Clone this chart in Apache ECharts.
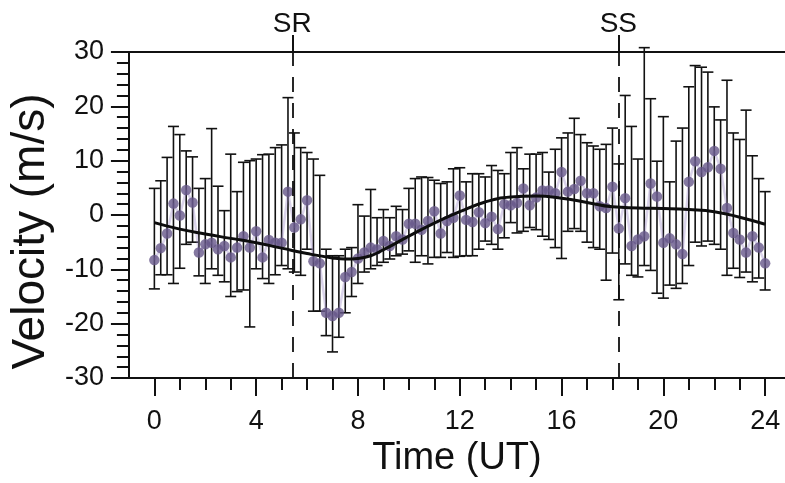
<!DOCTYPE html>
<html>
<head>
<meta charset="utf-8">
<script src="https://cdn.jsdelivr.net/npm/echarts@6/dist/echarts.min.js"></script>
<style>html,body{margin:0;padding:0;background:#fff}#c{width:785px;height:483px}</style>
</head>
<body>
<div id="c"></div>
<script>
// Time (UT), hours
const hours = [0,0.25,0.5,0.75,1,1.25,1.5,1.75,2,2.25,2.5,2.75,3,3.25,3.5,3.75,4,4.25,4.5,4.75,5,5.25,5.5,5.75,6,6.25,6.5,6.75,7,7.25,7.5,7.75,8,8.25,8.5,8.75,9,9.25,9.5,9.75,10,10.25,10.5,10.75,11,11.25,11.5,11.75,12,12.25,12.5,12.75,13,13.25,13.5,13.75,14,14.25,14.5,14.75,15,15.25,15.5,15.75,16,16.25,16.5,16.75,17,17.25,17.5,17.75,18,18.25,18.5,18.75,19,19.25,19.5,19.75,20,20.25,20.5,20.75,21,21.25,21.5,21.75,22,22.25,22.5,22.75,23,23.25,23.5,23.75,24];
// Velocity (m/s)
const velocity = [-8.3,-6.1,-3.4,2.1,-0.1,4.6,2.3,-6.9,-5.4,-5.1,-6.3,-5.7,-7.8,-6.0,-3.9,-6.0,-3.0,-7.8,-4.6,-5.1,-5.1,4.3,-2.3,-0.8,2.7,-8.5,-8.9,-18.0,-18.6,-18.0,-11.4,-10.5,-8.0,-6.9,-6.0,-6.3,-4.8,-5.7,-3.9,-4.5,-1.6,-1.6,-2.7,-1.1,0.7,-3.4,-1.1,-0.5,3.6,-0.9,-1.3,0.5,-1.5,-0.3,-2.6,2.0,1.8,2.2,4.9,1.8,3.2,4.5,4.5,4.0,7.9,4.3,4.8,6.3,4.0,4.0,1.6,1.3,5.2,-2.5,3.1,-5.7,-4.5,-3.9,5.8,3.4,-5.1,-4.3,-5.4,-7.2,6.1,9.9,7.9,8.8,11.8,8.5,1.3,-3.3,-4.5,-6.9,-3.9,-6.0,-8.9];
// Error bar upper ends
const upper = [4.9,6.3,10.6,16.3,14.8,11.8,10.7,4.9,6.7,15.9,5.3,0.8,11.2,4.3,9.7,10.0,10.3,11.1,11.2,12.4,12.9,21.6,15.1,12.4,11.5,10.3,7.3,-6.3,-7.5,-7.5,-6.3,-6.0,1.9,-0.2,4.7,-0.5,1.0,-0.5,1.6,1.0,4.9,6.7,7.0,6.9,6.4,5.8,6.1,8.5,8.7,6.1,7.6,7.6,7.0,9.1,8.2,7.6,11.5,12.4,8.5,11.2,11.2,11.5,7.9,12.1,14.2,15.1,17.8,14.8,13.3,12.7,12.1,13.0,16.0,9.4,22.0,16.3,10.3,30.8,21.4,9.9,18.1,6.1,13.6,16.0,23.6,27.5,27.2,26.3,19.9,17.5,24.8,15.1,13.9,19.3,10.9,6.7,4.3];
// Error bar lower ends
const lower = [-13.6,-11.0,-11.0,-12.6,-9.8,-5.4,-5.0,-11.2,-12.6,-9.9,-11.1,-12.3,-15.0,-14.1,-13.8,-20.6,-9.9,-11.7,-12.6,-11.0,-9.3,-9.9,-10.5,-11.1,-6.3,-17.7,-17.7,-22.2,-25.2,-22.5,-18.0,-15.0,-12.6,-10.5,-9.9,-9.3,-8.7,-8.1,-7.5,-7.2,-6.6,-8.7,-7.5,-9.0,-7.8,-7.8,-6.9,-7.8,-7.6,-7.5,-7.5,-6.3,-4.8,-5.4,-6.3,-4.2,-1.4,-3.3,-3.0,-2.3,-2.7,-3.9,-4.5,-6.0,-8.0,-3.0,-2.5,-3.0,-5.0,-6.0,-6.3,-12.0,-7.0,-15.6,-9.0,-11.1,-11.4,-9.3,-10.2,-14.4,-15.3,-12.9,-13.5,-12.6,-9.3,-5.0,-5.7,-4.8,-5.4,-6.3,-11.1,-9.8,-11.5,-10.5,-12.3,-11.6,-13.8];
// Fitted curve
const fitHours = [0,1,2,3,4,5,6,7,7.5,8,8.5,9,10,11,12,13,14,15,16,17,18,19,20,21,22,23,24];
const fitValues = [-1.4,-2.6,-3.5,-4.3,-5.1,-6.1,-7.1,-7.9,-8.1,-8.0,-7.5,-6.4,-3.9,-1.5,0.6,2.4,3.3,3.5,3.1,2.3,1.5,1.3,1.2,1.0,0.6,-0.4,-1.7];
// Sunrise / sunset
const eventHours = [5.42, 18.23];
const eventLabels = ['SR', 'SS'];
// Axis ticks
const xHourTicks = [0,1,2,3,4,5,6,7,8,9,10,11,12,13,14,15,16,17,18,19,20,21,22,23,24];
const xLabelTicks = [0,4,8,12,16,20,24];

const FONT = "'Liberation Sans', Arial, sans-serif";
const INK = '#111111';
const XMIN = -1, XMAX = 24.78;

const chart = echarts.init(document.getElementById('c'), null, {renderer: 'canvas'});
chart.setOption({
  animation: false,
  backgroundColor: '#ffffff',
  grid: {left: 125, top: 52, right: 0, bottom: 98, containLabel: false},
  xAxis: [
    {
      type: 'value', position: 'bottom', min: XMIN, max: XMAX,
      name: 'Time (UT)', nameLocation: 'middle', nameGap: 62,
      nameTextStyle: {fontFamily: FONT, fontSize: 38, color: INK},
      axisLine: {show: true, onZero: false, lineStyle: {color: INK, width: 2}},
      axisTick: {show: true, customValues: xHourTicks, length: 12, lineStyle: {color: INK, width: 2}},
      axisLabel: {show: true, customValues: xLabelTicks, margin: 30, fontFamily: FONT, fontSize: 27, color: INK},
      splitLine: {show: false}
    },
    {
      type: 'value', position: 'bottom', min: XMIN, max: XMAX,
      axisLine: {show: false, onZero: false},
      axisTick: {show: true, customValues: xLabelTicks, length: 18, lineStyle: {color: INK, width: 2}},
      axisLabel: {show: false},
      splitLine: {show: false}
    },
    {
      type: 'value', position: 'top', min: XMIN, max: XMAX,
      axisLine: {show: true, onZero: false, lineStyle: {color: INK, width: 2}},
      axisTick: {show: true, customValues: eventHours, length: 17, lineStyle: {color: INK, width: 2}},
      axisLabel: {show: true, customValues: eventHours, margin: 14, fontFamily: FONT, fontSize: 28, color: INK,
        formatter: v => { const i = eventHours.indexOf(v); return i >= 0 ? eventLabels[i] : ''; }},
      splitLine: {show: false}
    }
  ],
  yAxis: {
    type: 'value', min: -30, max: 30, interval: 10,
    name: 'Velocity (m/s)', nameLocation: 'middle', nameGap: 72,
    nameTextStyle: {fontFamily: FONT, fontSize: 46, color: INK, padding: [0, 33, 0, 0]},
    axisLine: {show: true, onZero: false, lineStyle: {color: INK, width: 2}},
    axisTick: {show: true, length: 18, lineStyle: {color: INK, width: 2}},
    minorTick: {show: true, splitNumber: 5, length: 12, lineStyle: {color: INK, width: 2}},
    axisLabel: {margin: 25, fontFamily: FONT, fontSize: 27, color: INK},
    splitLine: {show: false}
  },
  series: [
    {
      type: 'custom', xAxisIndex: 0,
      data: hours.map((h, i) => [h, lower[i], upper[i]]),
      renderItem: (params, api) => {
        const x = api.value(0);
        const lo = api.coord([x, api.value(1)]);
        const hi = api.coord([x, api.value(2)]);
        const cw = 5.5;
        const st = {stroke: INK, lineWidth: 1.6};
        return {type: 'group', children: [
          {type: 'line', shape: {x1: lo[0], y1: lo[1], x2: hi[0], y2: hi[1]}, style: st},
          {type: 'line', shape: {x1: hi[0] - cw, y1: hi[1], x2: hi[0] + cw, y2: hi[1]}, style: st},
          {type: 'line', shape: {x1: lo[0] - cw, y1: lo[1], x2: lo[0] + cw, y2: lo[1]}, style: st}
        ]};
      },
      z: 2
    },
    {
      type: 'line', xAxisIndex: 0,
      data: hours.map((h, i) => [h, velocity[i]]),
      showSymbol: false, symbol: 'none',
      lineStyle: {color: 'rgba(150,130,195,0.35)', width: 2.5},
      z: 3,
      markLine: {
        silent: true, symbol: 'none',
        label: {show: false},
        lineStyle: {color: INK, width: 1.8, type: [15, 11]},
        data: eventHours.map(h => ({xAxis: h}))
      }
    },
    {
      type: 'scatter', xAxisIndex: 0,
      data: hours.map((h, i) => [h, velocity[i]]),
      symbol: 'circle', symbolSize: 10.5,
      itemStyle: {color: '#66578a'},
      z: 4
    },
    {
      type: 'line', xAxisIndex: 0,
      data: fitHours.map((h, i) => [h, fitValues[i]]),
      smooth: true, showSymbol: false, symbol: 'none',
      lineStyle: {color: '#0d0d0d', width: 3},
      z: 5
    }
  ]
});
</script>
</body>
</html>
